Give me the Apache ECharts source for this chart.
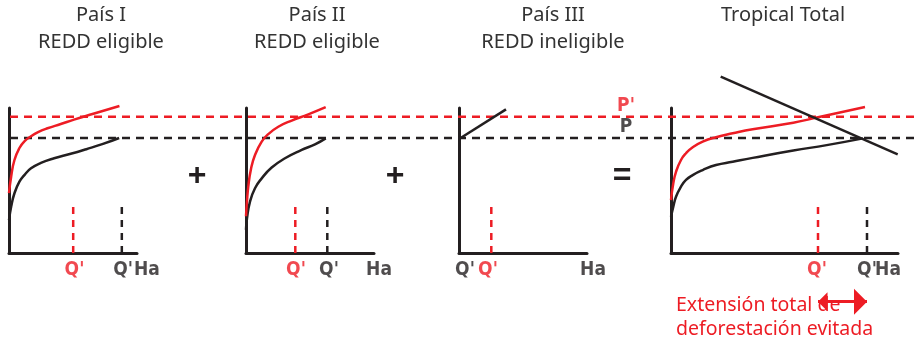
<!DOCTYPE html>
<html>
<head>
<meta charset="utf-8">
<script src="https://cdn.jsdelivr.net/npm/echarts@6/dist/echarts.min.js"></script>
<style>
	html, body { margin: 0; background: #fff; }
	#main { width: 915px; height: 340px; }
</style>
</head>
<body>
<div id="main"></div>
<script>
// 标题
let titles = [
	['País I', 'REDD eligible'],
	['País II', 'REDD eligible'],
	['País III', 'REDD ineligible'],
	['Tropical Total', ''],
];
// 价格水平 P, P'
let price_p = 5.95;
let price_p2 = 7.05;
// 各面板 x 轴最大值 (Ha)
let x_max = [12.9, 12.8, 12.8, 22.7];
let y_max = 7.5;
// 原价格下的供给曲线
let black_curves = [
	[[0, 1.7], [0.22, 2.4], [0.55, 3.09], [1.05, 3.69], [1.55, 4.03], [2.22, 4.38], [3.22, 4.66], [4.55, 4.9], [6.22, 5.13], [7.8, 5.37], [9.4, 5.63], [11.1, 5.95]],
	[[0, 1.2], [0.1, 1.8], [0.4, 2.66], [0.9, 3.35], [1.57, 3.86], [2.57, 4.42], [3.9, 4.9], [5.57, 5.33], [6.9, 5.62], [7.97, 5.93]],
	[[0, 5.9], [4.7, 7.43]],
	[[0, 1.88], [0.23, 2.4], [0.5, 2.91], [1.0, 3.43], [1.5, 3.78], [2.17, 4.03], [3.17, 4.29], [4.5, 4.55], [6.17, 4.72], [8.17, 4.92], [12.23, 5.3], [15.57, 5.58], [19.2, 5.93]],
];
// REDD 后的供给曲线
let red_curves = [
	[[0, 3.1], [0.22, 3.96], [0.55, 4.81], [1.05, 5.43], [1.55, 5.78], [2.22, 6.04], [2.88, 6.24], [3.88, 6.45], [5.22, 6.67], [6.55, 6.9], [8.5, 7.2], [11.13, 7.6]],
	[[0, 1.9], [0.1, 2.7], [0.23, 3.45], [0.5, 4.35], [0.9, 5.07], [1.57, 5.76], [2.23, 6.15], [3.23, 6.53], [4.57, 6.85], [6.23, 7.17], [7.97, 7.54]],
	[],
	[[0, 2.74], [0.23, 3.6], [0.5, 4.2], [1.0, 4.81], [1.5, 5.16], [2.17, 5.47], [3.17, 5.76], [4.5, 5.99], [6.17, 6.19], [8.17, 6.4], [12.23, 6.74], [14.7, 7.02], [17, 7.28], [19.4, 7.55]],
];
// 需求曲线 (Tropical Total)
let demand = [[4.97, 9.12], [22.67, 5.1]];
// Q 的位置
let q_black = [11.37, 8.13, 0, 19.6];
let q_red = [6.47, 4.93, 3.23, 14.7];
let q_mark_top = 2.55;
// x 轴下的文字: [x, 文字, 颜色]
let axis_labels = [
	[[6.6, "Q'", 'r'], [11.5, "Q'", 'k'], [13.9, 'Ha', 'k']],
	[[5.0, "Q'", 'r'], [8.3, "Q'", 'k'], [13.3, 'Ha', 'k']],
	[[0.6, "Q'", 'k'], [2.9, "Q'", 'r'], [13.4, 'Ha', 'k']],
	[[14.6, "Q'", 'r'], [19.6, "Q'", 'k'], [21.7, 'Ha', 'k']],
];
// 避免的毁林面积 箭头高度
let arrow_y = -2.52;
let overlay_max = 90.7;
let p_label_x = 61.8;

let red = '#ed1c24';
let black = '#231f20';
let cond_font = "'DejaVu Sans Condensed', 'Liberation Sans Narrow', sans-serif";
let text_font = "'Noto Sans', 'Open Sans', sans-serif";

let chart = echarts.init(document.getElementById('main'));

let grids = [
	{ left: 9, top: 108, width: 128, height: 145 },
	{ left: 246, top: 108, width: 128, height: 145 },
	{ left: 459, top: 108, width: 128, height: 145 },
	{ left: 671, top: 108, width: 227, height: 145 },
	{ left: 8, top: 108, width: 907, height: 145 },
];
let xAxis = [];
let yAxis = [];
let series = [];
let axis_style = { show: true, lineStyle: { color: black, width: 3 } };

for (let i = 0; i < 4; i++) {
	xAxis.push({ type: 'value', gridIndex: i, min: 0, max: x_max[i], axisLine: axis_style, axisTick: { show: false }, axisLabel: { show: false }, splitLine: { show: false } });
	yAxis.push({ type: 'value', gridIndex: i, min: 0, max: y_max, axisLine: axis_style, axisTick: { show: false }, axisLabel: { show: false }, splitLine: { show: false } });
	let base = { type: 'line', xAxisIndex: i, yAxisIndex: i, showSymbol: false, clip: false, silent: true };
	series.push({ ...base, data: black_curves[i], smooth: 0.5, z: 4, lineStyle: { color: black, width: 2.5 } });
	if (red_curves[i].length) {
		series.push({ ...base, data: red_curves[i], smooth: 0.5, z: 5, lineStyle: { color: red, width: 2.5 } });
	}
	// Q 虚线
	if (q_black[i] > 0) {
		series.push({ ...base, data: [[q_black[i], 0], [q_black[i], q_mark_top]], lineStyle: { color: black, width: 2.5, type: [7, 6] } });
	}
	series.push({ ...base, data: [[q_red[i], 0], [q_red[i], q_mark_top]], lineStyle: { color: red, width: 2.5, type: [7, 6] } });
	// 轴下文字
	series.push({
		type: 'scatter',
		xAxisIndex: i,
		yAxisIndex: i,
		symbolSize: 0,
		clip: false,
		silent: true,
		data: axis_labels[i].map((v) => ({ value: [v[0], 0], name: v[1], label: { color: v[2] == 'r' ? red : black } })),
		label: { show: true, position: 'bottom', distance: 8, formatter: (p) => p.name, fontFamily: cond_font, fontWeight: 'bold', fontSize: 19 },
	});
}
// 需求曲线
series.push({ type: 'line', xAxisIndex: 3, yAxisIndex: 3, data: demand, showSymbol: false, clip: false, silent: true, z: 6, lineStyle: { color: black, width: 2.5 } });
// 箭头: 避免的毁林面积 (箭头尖对准端点)
let arrow_head = 'path://M0,0L10,20L-10,20Z M0,-20L0,-20';
series.push({
	type: 'lines',
	coordinateSystem: 'cartesian2d',
	xAxisIndex: 3,
	yAxisIndex: 3,
	clip: false,
	silent: true,
	z: 6,
	symbol: [arrow_head, arrow_head],
	symbolSize: [19, 26],
	lineStyle: { color: red, width: 3, opacity: 1 },
	data: [{ coords: [[q_red[3], arrow_y], [q_black[3], arrow_y]] }],
});

// 横向虚线 P, P'
xAxis.push({ type: 'value', gridIndex: 4, min: 0, max: overlay_max, show: false });
yAxis.push({ type: 'value', gridIndex: 4, min: 0, max: y_max, show: false });
series.push({ type: 'line', xAxisIndex: 4, yAxisIndex: 4, data: [[0.2, price_p2], [overlay_max, price_p2]], showSymbol: false, silent: true, z: 2, lineStyle: { color: red, width: 2.5, type: [8, 6] } });
series.push({ type: 'line', xAxisIndex: 4, yAxisIndex: 4, data: [[0.2, price_p], [overlay_max, price_p]], showSymbol: false, silent: true, z: 2, lineStyle: { color: black, width: 2.5, type: [8, 6] } });
series.push({
	type: 'scatter',
	xAxisIndex: 4,
	yAxisIndex: 4,
	symbolSize: 0,
	silent: true,
	clip: false,
	data: [
		{ value: [p_label_x, price_p2], name: "P'", label: { color: red } },
		{ value: [p_label_x, price_p], name: 'P', label: { color: black } },
	],
	label: { show: true, position: 'top', distance: 1, formatter: (p) => p.name, fontFamily: cond_font, fontWeight: 'bold', fontSize: 19 },
});

// 标题、符号、说明文字
let graphic = [];
let title_x = [101, 317, 553, 783];
titles.forEach((t, i) => {
	graphic.push({ type: 'text', style: { text: t[0], x: title_x[i], y: 15, align: 'center', verticalAlign: 'middle', fill: '#333', font: `20px ${text_font}` } });
	graphic.push({ type: 'text', style: { text: t[1], x: title_x[i], y: 42, align: 'center', verticalAlign: 'middle', fill: '#333', font: `20px ${text_font}` } });
});
[[197, '+'], [395, '+'], [622, '=']].forEach((s) => {
	graphic.push({ type: 'text', style: { text: s[1], x: s[0], y: 176, align: 'center', verticalAlign: 'middle', fill: black, font: `bold 32px 'Liberation Sans', sans-serif` } });
});
graphic.push({ type: 'text', z: 1, style: { text: 'Extensión total de', x: 676, y: 305, verticalAlign: 'middle', fill: red, font: `19.5px ${text_font}` } });
graphic.push({ type: 'text', z: 1, style: { text: 'deforestación evitada', x: 676, y: 329, verticalAlign: 'middle', fill: red, font: `19.5px ${text_font}` } });

chart.setOption({
	animation: false,
	grid: grids,
	xAxis: xAxis,
	yAxis: yAxis,
	series: series,
	graphic: graphic,
});
</script>
</body>
</html>
